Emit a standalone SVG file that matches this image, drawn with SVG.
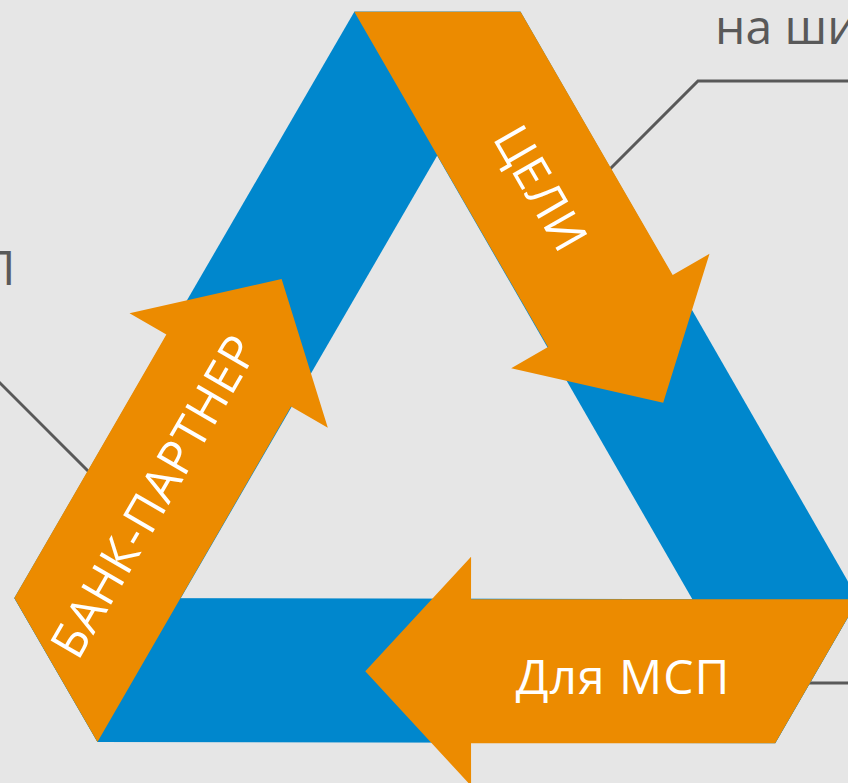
<svg xmlns="http://www.w3.org/2000/svg" xmlns:xlink="http://www.w3.org/1999/xlink" width="848" height="783" viewBox="0 0 848 783">
  <style>
    .band { fill: #0087cd; }
    .arrow { fill: #ec8b00; }
    .lbl { font-family: "Open Sans", "Liberation Sans", sans-serif; font-size: 48px; letter-spacing: 1px; fill: #ffffff; text-anchor: middle; }
    .side { font-family: "Open Sans", "Liberation Sans", sans-serif; font-size: 48px; fill: #595959; }
    .conn { fill: none; stroke: #595959; stroke-width: 3; }
  </style>
  <defs>
    <polygon id="bandShape" points="354.3,11.7 520.6,11.7 858.3,599.3 775.2,743.3"/>
    <polygon id="arrowShape" points="354.3,11.7 520.6,11.7 672.7,275.1 709.5,253.8 663.2,402.7 511.2,368.3 548.0,347.1"/>
  </defs>
  <rect x="0" y="0" width="848" height="783" fill="#e6e6e6"/>

  <g id="side-texts">
    <text class="side" x="715" y="44">на ши</text>
    <text class="side" x="15.5" y="285" text-anchor="end">П</text>
  </g>

  <g id="connectors">
    <polyline class="conn" points="850,81 698,81 598,181"/>
    <polyline class="conn" points="-2,381 100,483"/>
    <polyline class="conn" points="850,683 790,683"/>
  </g>

  <g id="bands">
    <use xlink:href="#bandShape" class="band"/>
    <use xlink:href="#bandShape" class="band" transform="rotate(120 436.7 451)"/>
    <use xlink:href="#bandShape" class="band" transform="rotate(240 436.7 451)"/>
  </g>

  <g id="node-celi">
    <use xlink:href="#arrowShape" class="arrow"/>
    <text class="lbl" transform="translate(540,189) rotate(60)" x="0" y="16">ЦЕЛИ</text>
  </g>
  <g id="node-msp">
    <use xlink:href="#arrowShape" class="arrow" transform="rotate(120 436.7 451)"/>
    <text class="lbl" x="623" y="694">Для МСП</text>
  </g>
  <g id="node-bank">
    <use xlink:href="#arrowShape" class="arrow" transform="rotate(240 436.7 451)"/>
    <text class="lbl" transform="translate(155,496.5) rotate(-60)" x="0" y="16">БАНК-ПАРТНЕР</text>
  </g>
</svg>
